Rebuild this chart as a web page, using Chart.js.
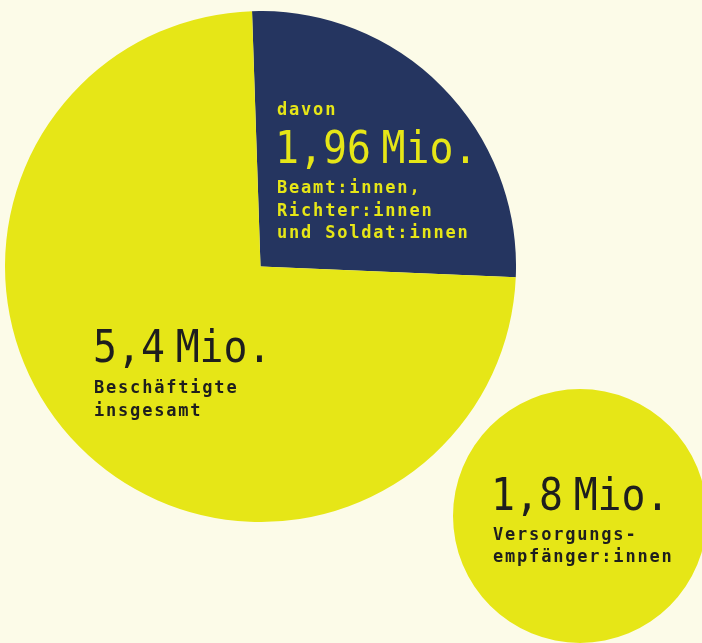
<!DOCTYPE html>
<html>
<head>
<meta charset="utf-8">
<script src="https://cdn.jsdelivr.net/npm/chart.js@4/dist/chart.umd.min.js"></script>
<style>
  html, body { margin:0; padding:0; width:702px; height:643px; overflow:hidden; background:#fcfbe8; }
  body { position:relative; font-family:"DejaVu Sans Mono", monospace; }
  canvas { position:absolute; }
  .lbl { position:absolute; white-space:nowrap; }
  .big { font-size:45px; line-height:45px; transform:scaleX(0.885); transform-origin:0 0; word-spacing:-15px; }
  .small { font-size:17px; font-weight:bold; letter-spacing:1.8px; }
  .dark { color:#1e1e1e; }
  .yel { color:#e6e617; }
</style>
</head>
<body>
<canvas id="c1" width="511" height="511" style="left:5px;top:11px;width:511px;height:511px"></canvas>
<canvas id="c2" width="254" height="254" style="left:453px;top:389px;width:254px;height:254px"></canvas>

<div class="lbl small yel" style="left:277px;top:98px;line-height:23px">davon</div>
<div class="lbl big yel" id="t1" style="left:275px;top:125px"></div>
<div class="lbl small yel" id="s1" style="left:277px;top:176px;line-height:22.7px"></div>

<div class="lbl big dark" id="t2" style="left:93px;top:324px"></div>
<div class="lbl small dark" id="s2" style="left:94px;top:375.6px;line-height:23px"></div>

<div class="lbl big dark" id="t3" style="left:491px;top:472px"></div>
<div class="lbl small dark" id="s3" style="left:493px;top:523px;line-height:22px"></div>

<script>
// Values shown as labels
const labelValues = ["1,96 Mio.", "5,4 Mio.", "1,8 Mio."];
const labelTexts = [
  ["Beamt:innen,", "Richter:innen", "und Soldat:innen"],
  ["Beschäftigte", "insgesamt"],
  ["Versorgungs-", "empfänger:innen"]
];
// Slice shares of the big pie as drawn in the picture (percent)
const bigCategories = ["Beamt:innen, Richter:innen und Soldat:innen", "übrige Beschäftigte"];
const bigShares = [26.2, 73.8];
const bigColors = ["#253560", "#e6e617"];
// Small circle: one full slice
const smallCategories = ["Versorgungsempfänger:innen"];
const smallShares = [100];
const smallColors = ["#e6e617"];

document.getElementById('t1').textContent = labelValues[0];
document.getElementById('t2').textContent = labelValues[1];
document.getElementById('t3').textContent = labelValues[2];
document.getElementById('s1').innerHTML = labelTexts[0].join('<br>');
document.getElementById('s2').innerHTML = labelTexts[1].join('<br>');
document.getElementById('s3').innerHTML = labelTexts[2].join('<br>');

const common = {
  responsive:false, animation:false, events:[],
  layout:{ padding:0 },
  plugins:{ legend:{display:false}, tooltip:{enabled:false} }
};

new Chart(document.getElementById('c1'), {
  type:'pie',
  data:{ labels:bigCategories, datasets:[{ data:bigShares, backgroundColor:bigColors, borderWidth:0 }] },
  options:Object.assign({ rotation:-1.9 }, common)
});
new Chart(document.getElementById('c2'), {
  type:'pie',
  data:{ labels:smallCategories, datasets:[{ data:smallShares, backgroundColor:smallColors, borderWidth:0 }] },
  options:common
});
</script>
</body>
</html>
